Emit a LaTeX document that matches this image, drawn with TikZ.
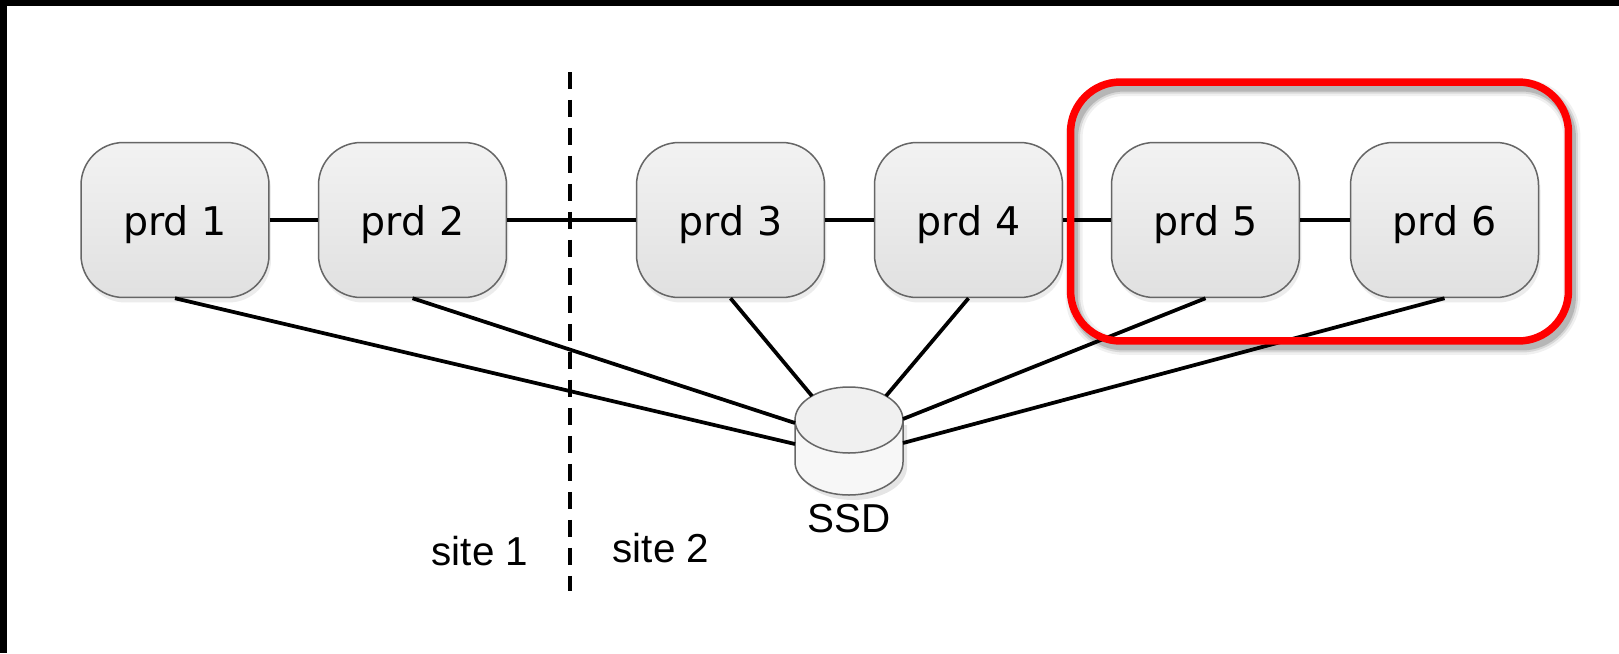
\documentclass[tikz,border=0pt]{standalone}
\usepackage{fontspec}
\setmainfont{DejaVu Sans}
\newfontfamily\sitefont{Liberation Sans}
\usetikzlibrary{shadows}
\tikzset{
	prd/.style={draw=black!60,line width=0.03cm,rounded corners=0.85cm,minimum width=3.76cm,minimum height=3.1cm,inner sep=0pt,
		text depth=0pt,top color=black!5,bottom color=black!12,font=\fontsize{22.5}{26}\selectfont,
		drop shadow={opacity=0.15,shadow xshift=0.04cm,shadow yshift=-0.1cm}},
	link/.style={line width=0.075cm,black},
	sitetext/.style={inner sep=0pt,font=\sitefont\fontsize{23}{26}\selectfont},
	groupbox/.style={rounded corners=1cm,minimum width=9.96cm,minimum height=5.18cm,inner sep=0pt},
	ssdline/.style={draw=black!60,line width=0.03cm}
}
\begin{document}
\begin{tikzpicture}[x=0.02cm,y=-0.02cm]
		\useasboundingbox (0,0) rectangle (1619,653);
		\fill[white] (0,0) rectangle (1619,653);
		\fill[black] (0,0) rectangle (1619,6);
		\fill[black] (0,0) rectangle (7,653);

		\coordinate (d1) at (570,72);
		\coordinate (d2) at (570,591);
		\draw[line width=0.08cm,dash pattern=on 0.34cm off 0.22cm] (d1) to (d2);

		\node[prd] (v1) at ( 175,220) {prd 1};
		\node[prd] (v2) at ( 412.5,220) {prd 2};
		\node[prd] (v3) at ( 730.5,220) {prd 3};
		\node[prd] (v4) at ( 968.5,220) {prd 4};
		\node[prd] (v5) at (1205.5,220) {prd 5};
		\node[prd] (v6) at (1444.5,220) {prd 6};

		\fill[black,opacity=0.1] (799,425) -- (799,467) arc[start angle=180,end angle=0,x radius=54,y radius=33] -- (907,425) -- cycle;
		\filldraw[ssdline,fill=black!3] (795,420) -- (795,462) arc[start angle=180,end angle=0,x radius=54,y radius=33] -- (903,420) -- cycle;
		\filldraw[ssdline,fill=black!6] (849,420) ellipse (54 and 33);
		\node[sitetext] (ssd) at (849,519) {SSD};

		\coordinate (c1) at (795,444);
		\coordinate (c2) at (795,423);
		\coordinate (c3) at (812,396);
		\coordinate (c4) at (886,396);
		\coordinate (c5) at (903,419);
		\coordinate (c6) at (903,443);

		\draw[link] (v1) to (v2);
		\draw[link] (v2) to (v3);
		\draw[link] (v3) to (v4);
		\draw[link] (v4) to (v5);
		\draw[link] (v5) to (v6);

		\draw[link] (v1.south) to (c1);
		\draw[link] (v2.south) to (c2);
		\draw[link] (v3.south) to (c3);
		\draw[link] (v4.south) to (c4);
		\draw[link] (v5.south) to (c5);
		\draw[link] (v6.south) to (c6);

		\node[sitetext] (s1) at (480,551) {site 1};
		\node[sitetext] (s2) at (661,548) {site 2};

		\node[groupbox,draw=black,opacity=0.06,line width=0.34cm] at (1323,217) {};
		\node[groupbox,draw=black,opacity=0.1,line width=0.24cm] at (1323,217) {};
		\node[groupbox,draw=black,opacity=0.15,line width=0.16cm] at (1323,217) {};
		\node[groupbox,draw=red,line width=0.15cm] (v8) at (1319.5,211.5) {};
	\end{tikzpicture}
\end{document}
